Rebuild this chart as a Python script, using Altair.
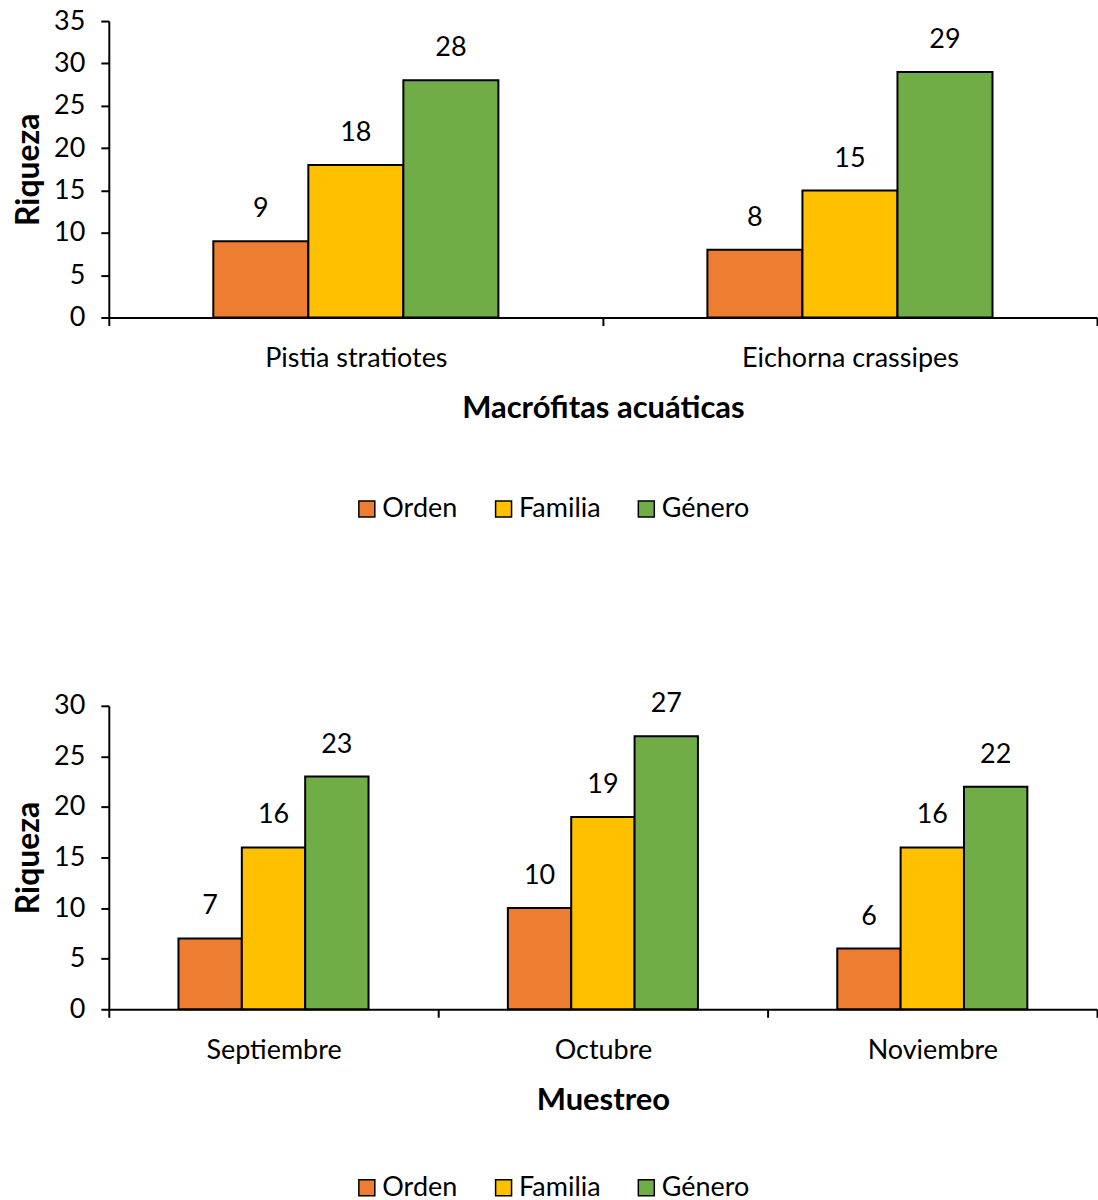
import altair as alt
import pandas as pd

# Riqueza de macroinvertebrados por nivel taxonómico
niveles = ["Orden", "Familia", "Género"]
colores = ["#ED7D31", "#FFC000", "#70AD47"]

plantas = ["Pistia stratiotes", "Eichorna crassipes"]
orden_plantas = [9, 8]
familia_plantas = [18, 15]
genero_plantas = [28, 29]

meses = ["Septiembre", "Octubre", "Noviembre"]
orden_meses = [7, 10, 6]
familia_meses = [16, 19, 16]
genero_meses = [23, 27, 22]

FONT = "Lato"
ANCHO = 990
GRUPO = 0.577  # fracción de cada categoría ocupada por las tres barras


def tabla(categorias, orden, familia, genero):
    filas = []
    for i, c in enumerate(categorias):
        for nivel, serie in zip(niveles, [orden, familia, genero]):
            filas.append({"cat": c, "nivel": nivel, "valor": serie[i]})
    return pd.DataFrame(filas)


def panel(df, categorias, titulo_x, ymax, alto, leyenda_y):
    banda = ANCHO / len(categorias)
    margen = banda * (1 - GRUPO) / 2
    base = alt.Chart(df).encode(
        x=alt.X(
            "cat:N",
            sort=categorias,
            title=titulo_x,
            scale=alt.Scale(paddingInner=0, paddingOuter=0),
            axis=alt.Axis(
                tickBand="extent",
                labelAngle=0,
                labelLimit=0,
                labelFontSize=27,
                labelPadding=20,
                titleFontSize=31,
                titleFontWeight="bold",
                titlePadding=22,
                tickSize=8,
            ),
        ),
        xOffset=alt.XOffset(
            "nivel:N",
            sort=niveles,
            scale=alt.Scale(paddingInner=0, paddingOuter=0, range=[margen, banda - margen]),
        ),
        y=alt.Y(
            "valor:Q",
            title="Riqueza",
            scale=alt.Scale(domain=[0, ymax], nice=False),
            axis=alt.Axis(
                values=list(range(0, ymax + 1, 5)),
                grid=False,
                labelFontSize=27,
                labelPadding=16,
                titleFontSize=32,
                titleFontWeight="bold",
                titlePadding=8,
                tickSize=8,
            ),
        ),
    )
    barras = base.mark_bar(stroke="black", strokeWidth=2).encode(
        color=alt.Color(
            "nivel:N",
            sort=niveles,
            scale=alt.Scale(domain=niveles, range=colores),
            legend=alt.Legend(
                title=None,
                orient="none",
                legendX=245,
                legendY=leyenda_y,
                direction="horizontal",
                symbolType="square",
                symbolSize=256,
                symbolStrokeColor="black",
                symbolStrokeWidth=1.5,
                labelFontSize=27,
                labelOffset=2,
                columnPadding=32,
                symbolOffset=0,
            ),
        )
    )
    etiquetas = base.mark_text(baseline="middle", dy=-32, fontSize=27, font=FONT, color="black").encode(
        text="valor:Q"
    )
    return (barras + etiquetas).properties(width=ANCHO, height=alto)


arriba = panel(tabla(plantas, orden_plantas, familia_plantas, genero_plantas),
               plantas, "Macrófitas acuáticas", 35, 297, 475)
abajo = panel(tabla(meses, orden_meses, familia_meses, genero_meses),
              meses, "Muestreo", 30, 304, 469)

chart = (
    alt.vconcat(arriba, abajo, spacing=168)
    .resolve_scale(color="independent", x="independent", y="independent", xOffset="independent")
    .resolve_legend(color="independent")
    .properties(padding={"top": 6, "left": 12, "right": 0, "bottom": 0})
    .configure(font=FONT)
    .configure_view(stroke=None)
    .configure_axis(domainColor="black", domainWidth=2, tickColor="black", tickWidth=2,
                    labelColor="black", titleColor="black", labelFont=FONT, titleFont=FONT)
    .configure_legend(labelColor="black", labelFont=FONT)
)

chart.save("out.html", embed_options={"renderer": "svg", "actions": False})
